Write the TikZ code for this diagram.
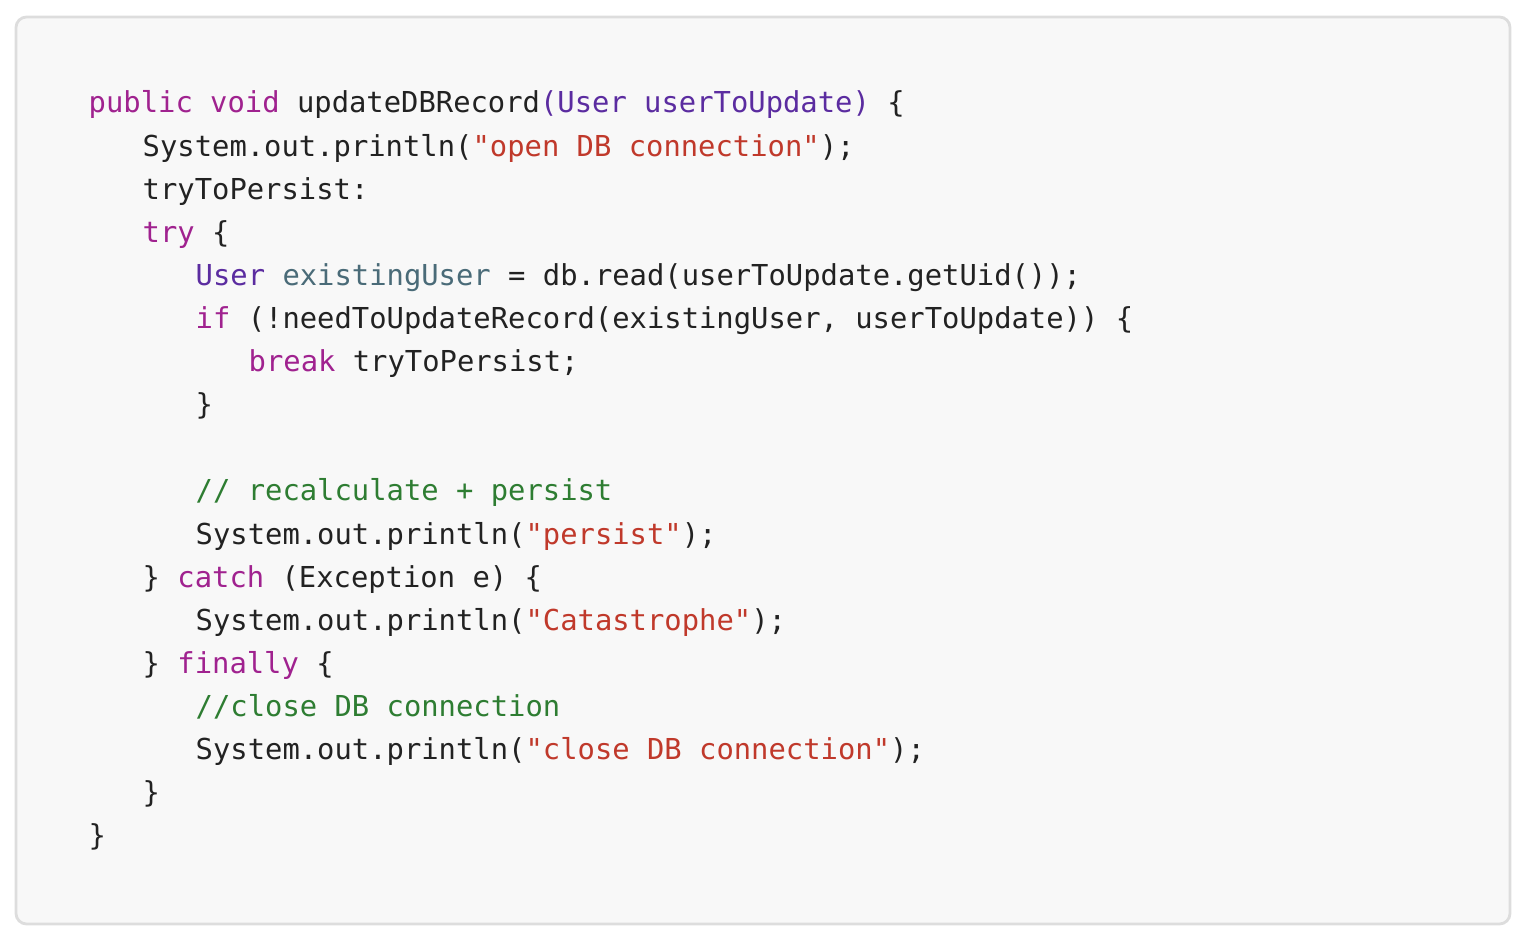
\documentclass[tikz,border=0pt]{standalone}
\usepackage{fontspec}
\newfontfamily\codefont{DejaVu Sans Mono}
\usetikzlibrary{positioning}
\definecolor{boxfill}{HTML}{F8F8F8}
\definecolor{boxline}{HTML}{DDDDDD}
\definecolor{kwcol}{HTML}{A0228F}
\definecolor{tycol}{HTML}{5B2CA0}
\definecolor{strcol}{HTML}{C0392B}
\definecolor{cmcol}{HTML}{2E7D32}
\definecolor{varcol}{HTML}{4A6B78}
\definecolor{txtcol}{HTML}{222222}
\newcommand{\kw}[1]{\textcolor{kwcol}{#1}}
\newcommand{\ty}[1]{\textcolor{tycol}{#1}}
\newcommand{\codestr}[1]{\textcolor{strcol}{#1}}
\newcommand{\cm}[1]{\textcolor{cmcol}{#1}}
\newcommand{\vr}[1]{\textcolor{varcol}{#1}}

\begin{document}
\begin{tikzpicture}[x=0.01cm,y=-0.01cm,
  codeline/.style={anchor=base west, inner sep=0pt, font=\codefont\fontsize{8.2}{10}\selectfont, text=txtcol}]
  % page and code box
  \useasboundingbox (0,0) rectangle (1524,934);
  \draw[boxline, fill=boxfill, rounded corners=3pt, line width=0.8pt] (16,17) rectangle (1510,924);

  % code lines
  \node[codeline] (l1) at (88,113) {\kw{public} \kw{void} updateDBRecord\ty{(User userToUpdate)} \{};
  \node[codeline] (l2) at (142,157) {System.out.println(\codestr{"open DB connection"});};
  \node[codeline] (l3) at (142,200) {tryToPersist:};
  \node[codeline] (l4) at (142,243) {\kw{try} \{};
  \node[codeline] (l5) at (195,286) {\ty{User} \vr{existingUser} = db.read(userToUpdate.getUid());};
  \node[codeline] (l6) at (195,329) {\kw{if} (!needToUpdateRecord(existingUser, userToUpdate)) \{};
  \node[codeline] (l7) at (248,372) {\kw{break} tryToPersist;};
  \node[codeline] (l8) at (195,415) {\}};
  \node[codeline] (l9) at (195,501) {\cm{// recalculate + persist}};
  \node[codeline] (l10) at (195,545) {System.out.println(\codestr{"persist"});};
  \node[codeline] (l11) at (142,588) {\} \kw{catch} (Exception e) \{};
  \node[codeline] (l12) at (195,631) {System.out.println(\codestr{"Catastrophe"});};
  \node[codeline] (l13) at (142,674) {\} \kw{finally} \{};
  \node[codeline] (l14) at (195,717) {\cm{//close DB connection}};
  \node[codeline] (l15) at (195,760) {System.out.println(\codestr{"close DB connection"});};
  \node[codeline] (l16) at (142,803) {\}};
  \node[codeline] (l17) at (88,846) {\}};
\end{tikzpicture}
\end{document}
